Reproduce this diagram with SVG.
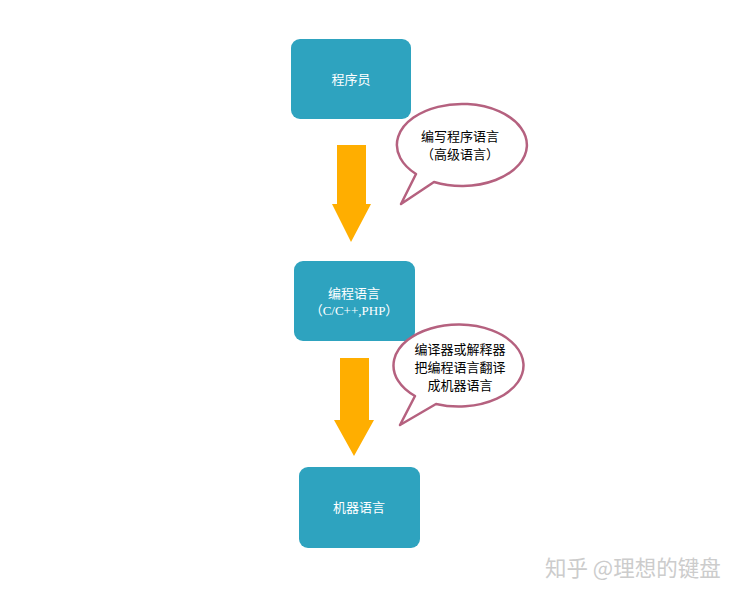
<svg xmlns="http://www.w3.org/2000/svg" width="742" height="597" viewBox="0 0 742 597">
<style>
.box{fill:#2ea3bf;}
.bt{fill:#ffffff;font-family:"Noto Sans CJK SC","Liberation Sans",sans-serif;font-size:13px;text-anchor:middle;}
.call{fill:#ffffff;stroke:#b5617f;stroke-width:2.5;stroke-linejoin:round;}
.ct{fill:#000000;font-family:"Liberation Sans","Noto Sans CJK SC",sans-serif;font-size:13px;text-anchor:middle;}
.arr{fill:#ffae00;}
.wm{fill:#cccccc;font-family:"Noto Sans CJK SC",sans-serif;font-size:21.5px;}
</style>
<rect width="742" height="597" fill="#ffffff"/>
<g id="connectors">
<polygon class="arr" points="337,145 366,145 366,204 371,204 351,242 332,204 337,204"/>
<polygon class="arr" points="340,358 369,358 369,420 374,420 354,456 334,420 340,420"/>
</g>
<g id="node-programmer">
<rect class="box" x="291" y="39" width="120" height="80" rx="9"/>
<text class="bt" x="351" y="84">程序员</text>
</g>
<g id="node-proglang">
<rect class="box" x="294" y="261" width="121" height="80" rx="9"/>
<text class="bt" x="354" y="298">编程语言</text>
<text class="bt" x="354" y="315" style="font-family:'Liberation Serif','Noto Sans CJK SC',serif">（C/C++,PHP）</text>
</g>
<g id="node-machine">
<rect class="box" x="299" y="467" width="121" height="81" rx="9"/>
<text class="bt" x="359" y="512">机器语言</text>
</g>
<g id="callout-1">
<path class="call" d="M416,174 A65,41 0 1 1 434,182 L401,204 Z"/>
<text class="ct" x="460" y="141">编写程序语言</text>
<text class="ct" x="460" y="159">（高级语言）</text>
</g>
<g id="callout-2">
<path class="call" d="M415,396 A65,41 0 1 1 436,404 L400,425 Z"/>
<text class="ct" x="460" y="354">编译器或解释器</text>
<text class="ct" x="460" y="372">把编程语言翻译</text>
<text class="ct" x="460" y="390">成机器语言</text>
</g>
<text class="wm" x="545" y="576">知乎 @理想的键盘</text>
</svg>
